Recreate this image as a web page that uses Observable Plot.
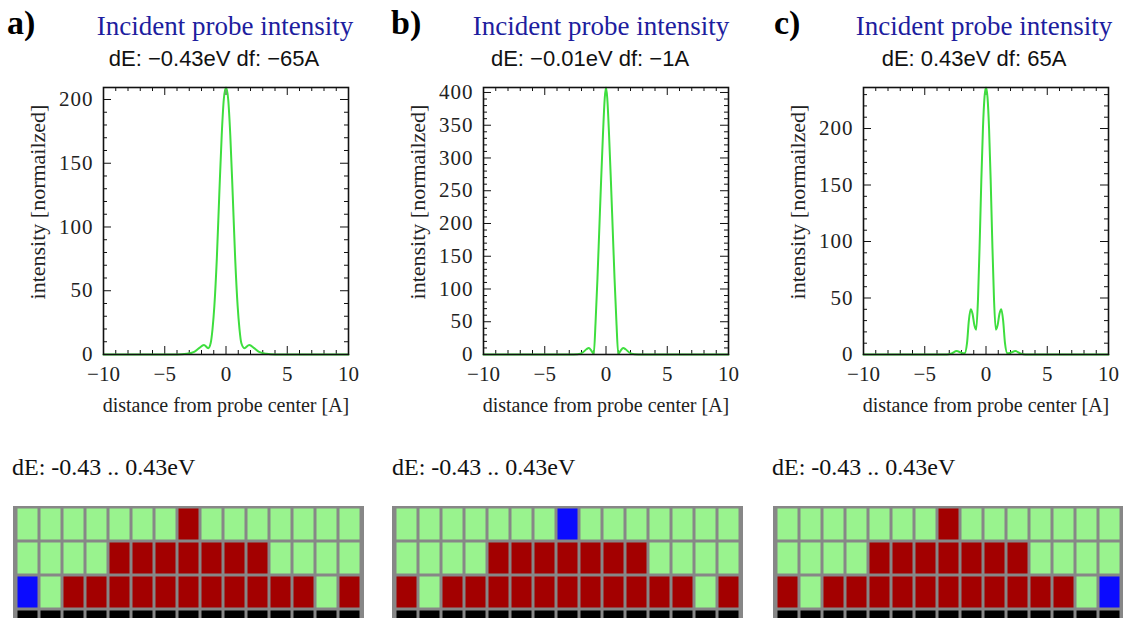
<!DOCTYPE html>
<html>
<head>
<meta charset="utf-8">
<script src="https://cdn.jsdelivr.net/npm/d3@7"></script>
<script src="https://cdn.jsdelivr.net/npm/@observablehq/plot@0.6"></script>
<style>
  html, body { margin: 0; padding: 0; background: #fff; }
  body { width: 1123px; height: 618px; overflow: hidden; position: relative; }
  .panel { position: absolute; top: 0; height: 618px; }
  .tag { position: absolute; font: bold 34px "Liberation Serif", serif; line-height: 34px; color: #000; }
  .title { position: absolute; width: 320px; text-align: center; white-space: nowrap;
           font: 27px "Liberation Serif", serif; line-height: 27px; color: #1d1d9e; }
  .sub { position: absolute; width: 320px; text-align: center; white-space: nowrap;
         font: 22px "Liberation Sans", sans-serif; line-height: 22px; color: #111; }
  .range { position: absolute; white-space: nowrap; font: 24px "Liberation Serif", serif; line-height: 24px; color: #111; }
  .plot, .grid { position: absolute; left: 0; }
  .plot { top: 80px; }
  .grid { top: 500px; }
  .plot g[aria-label="y-axis tick label"] text { letter-spacing: 1px; }
  .plot g[aria-label="x label"] text { letter-spacing: 0.8px; }
  .plot g[aria-label="y label"] text { letter-spacing: 1px; }
</style>
</head>
<body>
<script>
// ---- Panel labels and captions ----
const panelTags = ["a)", "b)", "c)"];
const panelTitle = "Incident probe intensity";
const panelSubtitles = ["dE: \u22120.43eV df: \u221265A", "dE: \u22120.01eV df: \u22121A", "dE: 0.43eV df: 65A"];
const rangeText = "dE: -0.43 .. 0.43eV";
const xLabel = "distance from probe center [A]";
const yLabel = "intensity [normailzed]";

// ---- Axis ticks ----
const xTicks = [-10, -5, 0, 5, 10];
const yTicksA = [0, 50, 100, 150, 200];
const yTicksB = [0, 50, 100, 150, 200, 250, 300, 350, 400];
const yTicksC = [0, 50, 100, 150, 200];
const yMaxes = [209.4, 407.6, 236.3];

// ---- Probe intensity profiles (distance, intensity) ----
const distA = [-10, -4, -3.2, -2.6, -2.2, -1.8, -1.45, -1.25, -1.1, -0.95, -0.75, -0.55, -0.35, -0.18, 0,
               0.18, 0.35, 0.55, 0.75, 0.95, 1.1, 1.25, 1.5, 1.9, 2.3, 2.7, 3.3, 4, 10];
const intA  = [0, 0, 0.5, 2, 5, 7.5, 5, 9, 20, 38, 75, 125, 172, 200, 209.4,
               200, 172, 125, 75, 38, 20, 9, 5, 7.5, 5, 2, 0.5, 0, 0];

const distB = [-10, -3, -2.3, -1.9, -1.6, -1.4, -1.2, -1.0, -0.85, -0.7, -0.55, -0.4, -0.25, -0.1, 0,
               0.1, 0.25, 0.4, 0.55, 0.7, 0.85, 1.0, 1.2, 1.4, 1.6, 1.9, 2.3, 3, 10];
const intB  = [0, 0, 0.5, 3, 8, 10, 6, 1, 50, 115, 190, 265, 335, 392, 407.6,
               392, 335, 265, 190, 115, 50, 1, 6, 10, 8, 3, 0.5, 0, 0];

const distC = [-10, -3.2, -2.8, -2.4, -2.0, -1.75, -1.55, -1.4, -1.25, -1.1, -0.95, -0.8, -0.65, -0.5, -0.38, -0.25, -0.12, 0,
               0.12, 0.25, 0.38, 0.5, 0.65, 0.8, 0.95, 1.1, 1.25, 1.4, 1.55, 1.75, 2.0, 2.4, 2.8, 3.2, 10];
const intC  = [0, 0, 1, 3, 1.5, 1, 10, 30, 40, 36, 26, 22, 50, 105, 155, 200, 228, 236.3,
               228, 200, 155, 105, 50, 22, 26, 36, 40, 30, 10, 1, 1.5, 3, 1, 0, 0];

// ---- Energy-channel occupancy grids (G = free, R = occupied, B = selected, K = unused) ----
const gridA = [
  "GGGGGGGRGGGGGGG",
  "GGGGRRRRRRRGGGG",
  "BGRRRRRRRRRRRGR",
  "KKKKKKKKKKKKKKK"
];
const gridB = [
  "GGGGGGGBGGGGGGG",
  "GGGGRRRRRRRGGGG",
  "RGRRRRRRRRRRRGR",
  "KKKKKKKKKKKKKKK"
];
const gridC = [
  "GGGGGGGRGGGGGGG",
  "GGGGRRRRRRRGGGG",
  "RGRRRRRRRRRRRGB",
  "KKKKKKKKKKKKKKK"
];
const stateKeys = ["G", "R", "B", "K"];
const stateColors = ["#99f38e", "#a30000", "#0b0bff", "#000000"];

const fmt = d3.format("d");
const serif = "'Liberation Serif', serif";

function curvePlot(dist, inten, yTicks, yMax, width) {
  const pts = dist.map((x, i) => ({x, y: inten[i]}));
  const marginLeft = 103, marginTop = 7, marginBottom = 66, height = 340;
  const marginRight = width - marginLeft - 245;
  const innerW = width - marginLeft - marginRight;
  const innerH = height - marginTop - marginBottom;
  const xMinor = d3.range(-9, 10).filter(v => v % 5 !== 0);
  const xMajor = [-5, 0, 5];
  const yMinor = d3.range(10, yMax, 10).filter(v => v % 50 !== 0);
  const yMajor = yTicks.filter(v => v > 0 && v < yMax);
  const tickStyle = {stroke: "#111", strokeWidth: 1};
  return Plot.plot({
    width, height, marginLeft, marginRight, marginTop, marginBottom,
    style: {fontFamily: serif, fontSize: "20px", color: "#222", background: "transparent", overflow: "visible"},
    x: {domain: [-10, 10]},
    y: {domain: [0, yMax]},
    marks: [
      // inward ticks on all four sides of the frame
      Plot.tickX(xMinor, {x: d => d, insetTop: innerH - 4, ...tickStyle}),
      Plot.tickX(xMinor, {x: d => d, insetBottom: innerH - 4, ...tickStyle}),
      Plot.tickX(xMajor, {x: d => d, insetTop: innerH - 8, ...tickStyle}),
      Plot.tickX(xMajor, {x: d => d, insetBottom: innerH - 8, ...tickStyle}),
      Plot.tickY(yMinor, {y: d => d, insetRight: innerW - 4, ...tickStyle}),
      Plot.tickY(yMinor, {y: d => d, insetLeft: innerW - 4, ...tickStyle}),
      Plot.tickY(yMajor, {y: d => d, insetRight: innerW - 8, ...tickStyle}),
      Plot.tickY(yMajor, {y: d => d, insetLeft: innerW - 8, ...tickStyle}),
      Plot.axisX({ticks: xTicks, tickSize: 0, tickPadding: 12, tickFormat: fmt, label: null, fontSize: 21, fontFamily: serif}),
      Plot.axisY({ticks: yTicks, tickSize: 0, tickPadding: 10, tickFormat: fmt, label: null, fontSize: 21, fontFamily: serif}),
      Plot.text([xLabel], {text: d => d, frameAnchor: "bottom", lineAnchor: "middle", textAnchor: "middle",
                           dy: 51, fontSize: 20, fontFamily: serif, ariaLabel: "x label"}),
      Plot.text([yLabel], {text: d => d, frameAnchor: "left", lineAnchor: "middle", textAnchor: "middle",
                           rotate: -90, dx: -66, dy: -19, fontSize: 22, fontFamily: serif, ariaLabel: "y label"}),
      Plot.line(pts, {x: "x", y: "y", stroke: "#3ede3e", strokeWidth: 2, curve: "monotone-x", clip: false}),
      Plot.frame({stroke: "#111", strokeWidth: 1.6})
    ]
  });
}

function gridPlot(rows, width, marginLeft, marginRight) {
  const cells = rows.flatMap((r, row) => [...r].map((state, col) => ({col, row, state})));
  return Plot.plot({
    width, height: 150, marginTop: 7, marginBottom: 7, marginLeft, marginRight,
    style: {background: "transparent"},
    x: {type: "band", domain: d3.range(rows[0].length), padding: 0, axis: null},
    y: {type: "band", domain: d3.range(rows.length), padding: 0, axis: null},
    color: {type: "ordinal", domain: stateKeys, range: stateColors},
    marks: [
      Plot.frame({fill: "#878787", stroke: "#878787", strokeWidth: 3}),
      Plot.cell(cells, {x: "col", y: "row", fill: "state", inset: 1.5})
    ]
  });
}

const panels = [
  {left: 0,   width: 374, dist: distA, inten: intA, yTicks: yTicksA, yMax: yMaxes[0], grid: gridA, gl: 14, gr: 12, tagX: 7,  titleC: 225, subC: 214, rangeX: 12},
  {left: 380, width: 374, dist: distB, inten: intB, yTicks: yTicksB, yMax: yMaxes[1], grid: gridB, gl: 13, gr: 13, tagX: 11, titleC: 221, subC: 210, rangeX: 12},
  {left: 760, width: 363, dist: distC, inten: intC, yTicks: yTicksC, yMax: yMaxes[2], grid: gridC, gl: 14, gr: 1,  tagX: 14, titleC: 224, subC: 214, rangeX: 12}
];

panels.forEach((p, i) => {
  const div = document.createElement("div");
  div.className = "panel";
  div.style.left = p.left + "px";
  div.style.width = p.width + "px";
  document.body.appendChild(div);

  const tag = document.createElement("div");
  tag.className = "tag";
  tag.textContent = panelTags[i];
  tag.style.left = p.tagX + "px";
  tag.style.top = "6px";
  div.appendChild(tag);

  const title = document.createElement("div");
  title.className = "title";
  title.textContent = panelTitle;
  title.style.left = (p.titleC - 160) + "px";
  title.style.top = "13px";
  div.appendChild(title);

  const sub = document.createElement("div");
  sub.className = "sub";
  sub.textContent = panelSubtitles[i];
  sub.style.left = (p.subC - 160) + "px";
  sub.style.top = "48px";
  div.appendChild(sub);

  const plot = curvePlot(p.dist, p.inten, p.yTicks, p.yMax, p.width);
  plot.classList.add("plot");
  div.appendChild(plot);

  const range = document.createElement("div");
  range.className = "range";
  range.textContent = rangeText;
  range.style.left = p.rangeX + "px";
  range.style.top = "455px";
  div.appendChild(range);

  const grid = gridPlot(p.grid, p.width, p.gl, p.gr);
  grid.classList.add("grid");
  div.appendChild(grid);
});
</script>
</body>
</html>
